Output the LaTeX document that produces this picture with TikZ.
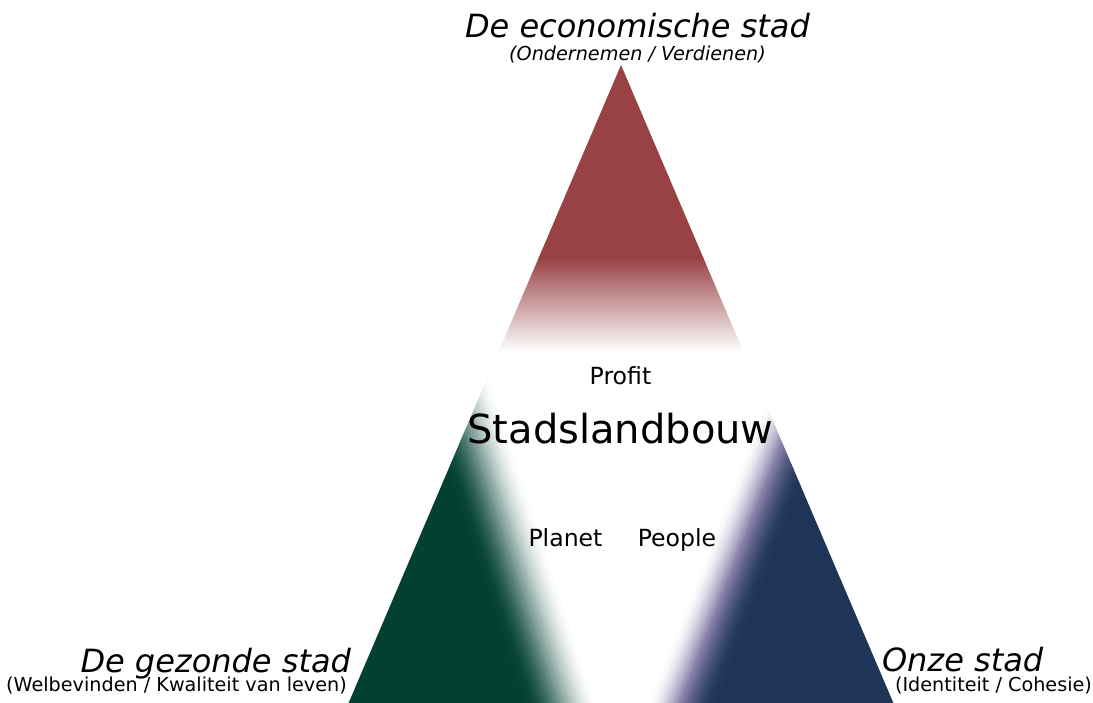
\documentclass[tikz,border=0pt]{standalone}
\usepackage{fontspec}
\setmainfont{DejaVu Sans}[ItalicFont={DejaVu Sans Oblique}]
\definecolor{redc}{RGB}{152,66,70}
\definecolor{greenc}{RGB}{2,64,50}
\definecolor{bluec}{RGB}{30,53,88}
\definecolor{lavc}{RGB}{132,126,168}
\tikzset{
  lbl/.style={inner sep=0pt, outer sep=0pt, text=black, anchor=base},
  ttl/.style={lbl, font=\fontsize{32}{38}\selectfont\itshape},
  sub/.style={lbl, font=\fontsize{19.2}{23}\selectfont},
  mid/.style={lbl, font=\fontsize{23.6}{28}\selectfont},
  big/.style={lbl, font=\fontsize{40}{46}\selectfont}
}
\begin{document}
\begin{tikzpicture}[x=1pt,y=-1pt]
\useasboundingbox (0,0) rectangle (1093,702);
\fill[white] (0,0) rectangle (1093,702);
\begin{scope}
  \clip (621,65) -- (896.4,710) -- (345.6,710) -- cycle;
  % red top part
  \fill[redc] (300,40) rectangle (950,258);
  \shade[top color=redc, bottom color=white] (300,257.5) rectangle (950,352);
  % green lower-left part
  \begin{scope}
    \clip (0,360) rectangle (1093,720);
    \begin{scope}[shift={(499,513)}, rotate=18.3]
      \fill[greenc] (-600,-800) rectangle (-34.5,800);
      \foreach \i in {0,...,39} {
        \pgfmathsetmacro\myU{(\i+0.5)/40}
        \pgfmathtruncatemacro\myP{100-100*(3*\myU*\myU-2*\myU*\myU*\myU)}
        \colorlet{tmpc}{greenc!\myP!white}
        \fill[tmpc] (-35+1.75*\i,-800) rectangle (-35+1.75*\i+2.3,800);
      }
    \end{scope}
  \end{scope}
  % blue lower-right part
  \begin{scope}
    \clip (0,360) rectangle (1093,720);
    \begin{scope}[shift={(755,513)}, rotate=-21.3]
      \fill[bluec] (31.5,-800) rectangle (600,800);
      \foreach \i in {0,...,39} {
        \pgfmathsetmacro\myU{(\i+0.5)/40}
        \pgfmathtruncatemacro\myS{100*(3*\myU*\myU-2*\myU*\myU*\myU)}
        \ifnum\myS<50
          \pgfmathtruncatemacro\myQ{\myS*2}
          \colorlet{tmpc}{lavc!\myQ!white}
        \else
          \pgfmathtruncatemacro\myQ{(\myS-50)*2}
          \colorlet{tmpc}{bluec!\myQ!lavc}
        \fi
        \fill[tmpc] (-32+1.6*\i,-800) rectangle (-32+1.6*\i+2.1,800);
      }
    \end{scope}
  \end{scope}
\end{scope}
% texts
\node[ttl] (econ) at (637.5,37) {De economische stad};
\node[sub, font=\fontsize{19.2}{23}\selectfont\itshape] (econsub) at (637.5,60) {(Ondernemen / Verdienen)};
\node[ttl, anchor=base east] (gez) at (351,672) {De gezonde stad};
\node[sub] (gezsub) at (176.5,691) {(Welbevinden / Kwaliteit van leven)};
\node[ttl, anchor=base west] (onze) at (882,671) {Onze stad};
\node[sub] (onzesub) at (993.5,691) {(Identiteit / Cohesie)};
\node[mid] (profit) at (620.5,384) {Profit};
\node[big] (stad) at (620.5,443) {Stadslandbouw};
\node[mid] (planet) at (565.5,546) {Planet};
\node[mid] (people) at (677,546) {People};
\end{tikzpicture}
\end{document}
